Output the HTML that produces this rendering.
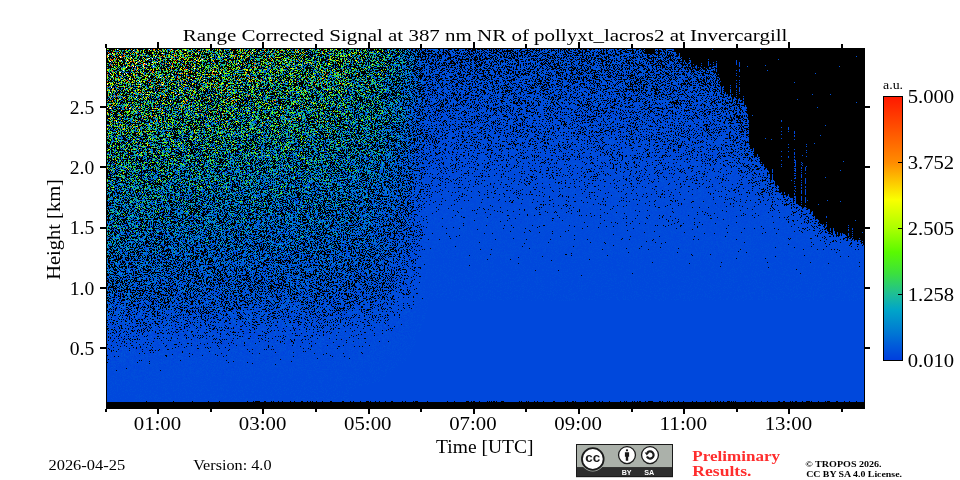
<!DOCTYPE html>
<html><head><meta charset="utf-8"><title>Range Corrected Signal</title>
<style>
html,body{margin:0;padding:0;background:#fff;}
body{width:960px;height:480px;overflow:hidden;position:relative;font-family:"Liberation Serif",serif;}
svg{position:absolute;left:0;top:0;}
text{font-family:"Liberation Serif",serif;fill:#000;}
.b{font-weight:bold;}
.ss{font-family:"Liberation Sans",sans-serif;font-weight:bold;}
</style></head><body>
<svg width="759" height="361" viewBox="106 48 759 361" style="left:106px;top:48px">
<defs>
<linearGradient id="gx" gradientUnits="userSpaceOnUse" x1="107" y1="0" x2="864" y2="0"><stop offset="0" stop-color="rgb(19,0,0)"/><stop offset="0.0159" stop-color="rgb(20,0,0)"/><stop offset="0.0317" stop-color="rgb(21,0,0)"/><stop offset="0.0476" stop-color="rgb(21,0,0)"/><stop offset="0.0634" stop-color="rgb(22,0,0)"/><stop offset="0.07" stop-color="rgb(22,0,0)"/><stop offset="0.0793" stop-color="rgb(23,0,0)"/><stop offset="0.0951" stop-color="rgb(23,0,0)"/><stop offset="0.111" stop-color="rgb(24,0,0)"/><stop offset="0.1268" stop-color="rgb(24,0,0)"/><stop offset="0.1427" stop-color="rgb(25,0,0)"/><stop offset="0.1493" stop-color="rgb(25,0,0)"/><stop offset="0.1585" stop-color="rgb(25,0,0)"/><stop offset="0.1744" stop-color="rgb(26,0,0)"/><stop offset="0.1902" stop-color="rgb(26,0,0)"/><stop offset="0.2061" stop-color="rgb(27,0,0)"/><stop offset="0.2219" stop-color="rgb(27,0,0)"/><stop offset="0.2378" stop-color="rgb(28,0,0)"/><stop offset="0.2536" stop-color="rgb(28,0,0)"/><stop offset="0.2695" stop-color="rgb(29,0,0)"/><stop offset="0.2853" stop-color="rgb(29,0,0)"/><stop offset="0.2946" stop-color="rgb(29,0,0)"/><stop offset="0.3012" stop-color="rgb(30,0,0)"/><stop offset="0.317" stop-color="rgb(32,0,0)"/><stop offset="0.3329" stop-color="rgb(34,0,0)"/><stop offset="0.3487" stop-color="rgb(36,0,0)"/><stop offset="0.3606" stop-color="rgb(37,0,0)"/><stop offset="0.3646" stop-color="rgb(39,0,0)"/><stop offset="0.3804" stop-color="rgb(47,0,0)"/><stop offset="0.3937" stop-color="rgb(53,0,0)"/><stop offset="0.3963" stop-color="rgb(56,0,0)"/><stop offset="0.4108" stop-color="rgb(74,0,0)"/><stop offset="0.4122" stop-color="rgb(75,0,0)"/><stop offset="0.4267" stop-color="rgb(96,0,0)"/><stop offset="0.428" stop-color="rgb(96,0,0)"/><stop offset="0.4439" stop-color="rgb(96,0,0)"/><stop offset="0.4597" stop-color="rgb(96,0,0)"/><stop offset="0.4756" stop-color="rgb(96,0,0)"/><stop offset="0.4914" stop-color="rgb(96,0,0)"/><stop offset="0.5073" stop-color="rgb(96,0,0)"/><stop offset="0.5231" stop-color="rgb(96,0,0)"/><stop offset="0.539" stop-color="rgb(96,0,0)"/><stop offset="0.5548" stop-color="rgb(96,0,0)"/><stop offset="0.5707" stop-color="rgb(96,0,0)"/><stop offset="0.5865" stop-color="rgb(96,0,0)"/><stop offset="0.6024" stop-color="rgb(96,0,0)"/><stop offset="0.6182" stop-color="rgb(96,0,0)"/><stop offset="0.6341" stop-color="rgb(96,0,0)"/><stop offset="0.6499" stop-color="rgb(96,0,0)"/><stop offset="0.6658" stop-color="rgb(96,0,0)"/><stop offset="0.6816" stop-color="rgb(96,0,0)"/><stop offset="0.6975" stop-color="rgb(96,0,0)"/><stop offset="0.7133" stop-color="rgb(96,0,0)"/><stop offset="0.7292" stop-color="rgb(96,0,0)"/><stop offset="0.745" stop-color="rgb(96,0,0)"/><stop offset="0.7609" stop-color="rgb(96,0,0)"/><stop offset="0.7768" stop-color="rgb(96,0,0)"/><stop offset="0.7926" stop-color="rgb(96,0,0)"/><stop offset="0.8085" stop-color="rgb(96,0,0)"/><stop offset="0.8243" stop-color="rgb(96,0,0)"/><stop offset="0.8402" stop-color="rgb(96,0,0)"/><stop offset="0.856" stop-color="rgb(96,0,0)"/><stop offset="0.8719" stop-color="rgb(96,0,0)"/><stop offset="0.8877" stop-color="rgb(96,0,0)"/><stop offset="0.9036" stop-color="rgb(96,0,0)"/><stop offset="0.9194" stop-color="rgb(96,0,0)"/><stop offset="0.9353" stop-color="rgb(96,0,0)"/><stop offset="0.9511" stop-color="rgb(96,0,0)"/><stop offset="0.967" stop-color="rgb(96,0,0)"/><stop offset="0.9828" stop-color="rgb(96,0,0)"/><stop offset="0.9987" stop-color="rgb(96,0,0)"/><stop offset="1" stop-color="rgb(96,0,0)"/></linearGradient>
<linearGradient id="gy" gradientUnits="userSpaceOnUse" x1="0" y1="49" x2="0" y2="408"><stop offset="0" stop-color="rgb(0,16,159)"/><stop offset="0.0167" stop-color="rgb(0,27,158)"/><stop offset="0.0334" stop-color="rgb(0,36,157)"/><stop offset="0.0501" stop-color="rgb(0,42,156)"/><stop offset="0.0669" stop-color="rgb(0,47,155)"/><stop offset="0.0836" stop-color="rgb(0,53,154)"/><stop offset="0.1003" stop-color="rgb(0,56,152)"/><stop offset="0.117" stop-color="rgb(0,58,151)"/><stop offset="0.1337" stop-color="rgb(0,61,150)"/><stop offset="0.1504" stop-color="rgb(0,64,149)"/><stop offset="0.1671" stop-color="rgb(0,66,148)"/><stop offset="0.1838" stop-color="rgb(0,69,146)"/><stop offset="0.2006" stop-color="rgb(0,71,145)"/><stop offset="0.2173" stop-color="rgb(0,73,143)"/><stop offset="0.234" stop-color="rgb(0,75,142)"/><stop offset="0.2507" stop-color="rgb(0,77,141)"/><stop offset="0.2674" stop-color="rgb(0,79,139)"/><stop offset="0.2841" stop-color="rgb(0,81,138)"/><stop offset="0.3008" stop-color="rgb(0,82,136)"/><stop offset="0.3175" stop-color="rgb(0,84,135)"/><stop offset="0.3343" stop-color="rgb(0,86,133)"/><stop offset="0.351" stop-color="rgb(0,88,132)"/><stop offset="0.3677" stop-color="rgb(0,90,130)"/><stop offset="0.3844" stop-color="rgb(0,92,128)"/><stop offset="0.4011" stop-color="rgb(0,93,126)"/><stop offset="0.4178" stop-color="rgb(0,95,125)"/><stop offset="0.4345" stop-color="rgb(0,97,123)"/><stop offset="0.4513" stop-color="rgb(0,98,121)"/><stop offset="0.468" stop-color="rgb(0,99,119)"/><stop offset="0.4847" stop-color="rgb(0,101,117)"/><stop offset="0.5014" stop-color="rgb(0,102,115)"/><stop offset="0.5181" stop-color="rgb(0,104,113)"/><stop offset="0.5348" stop-color="rgb(0,106,110)"/><stop offset="0.5515" stop-color="rgb(0,107,108)"/><stop offset="0.5682" stop-color="rgb(0,109,106)"/><stop offset="0.585" stop-color="rgb(0,110,103)"/><stop offset="0.6017" stop-color="rgb(0,112,100)"/><stop offset="0.6184" stop-color="rgb(0,113,98)"/><stop offset="0.6351" stop-color="rgb(0,115,95)"/><stop offset="0.6518" stop-color="rgb(0,116,92)"/><stop offset="0.6685" stop-color="rgb(0,119,89)"/><stop offset="0.6852" stop-color="rgb(0,124,85)"/><stop offset="0.7019" stop-color="rgb(0,129,82)"/><stop offset="0.7187" stop-color="rgb(0,134,78)"/><stop offset="0.7354" stop-color="rgb(0,139,74)"/><stop offset="0.7521" stop-color="rgb(0,145,70)"/><stop offset="0.7688" stop-color="rgb(0,150,65)"/><stop offset="0.7855" stop-color="rgb(0,155,60)"/><stop offset="0.8022" stop-color="rgb(0,159,55)"/><stop offset="0.8189" stop-color="rgb(0,163,50)"/><stop offset="0.8357" stop-color="rgb(0,168,43)"/><stop offset="0.8524" stop-color="rgb(0,173,36)"/><stop offset="0.8691" stop-color="rgb(0,179,28)"/><stop offset="0.8858" stop-color="rgb(0,185,20)"/><stop offset="0.9025" stop-color="rgb(0,191,14)"/><stop offset="0.9192" stop-color="rgb(0,196,9)"/><stop offset="0.9359" stop-color="rgb(0,199,3)"/><stop offset="0.9526" stop-color="rgb(0,200,0)"/><stop offset="0.9694" stop-color="rgb(0,202,0)"/><stop offset="0.9861" stop-color="rgb(0,203,0)"/></linearGradient>
<filter id="heat" filterUnits="userSpaceOnUse" x="106" y="48" width="759" height="361" color-interpolation-filters="sRGB">
<feTurbulence type="fractalNoise" baseFrequency="1.618" numOctaves="2" seed="3"/><feColorMatrix type="matrix" values="0 0 0 1 0 0 0 0 1 0 0 0 0 1 0 0 0 0 0 1" result="n0"/><feTurbulence type="fractalNoise" baseFrequency="2.31 2.71" numOctaves="1" seed="11"/><feColorMatrix type="matrix" values="0 0 0 1 0 0 0 0 1 0 0 0 0 1 0 0 0 0 0 1" result="n1"/><feComposite in="n0" in2="n1" operator="arithmetic" k1="0" k2="1" k3="1" k4="-0.5"/>
<feComponentTransfer result="Z"><feFuncR type="table" tableValues="0.008 0.008 0.008 0.008 0.008 0.008 0.008 0.008 0.008 0.008 0.008 0.008 0.008 0.008 0.012 0.017 0.022 0.027 0.032 0.037 0.042 0.047 0.052 0.057 0.062 0.067 0.072 0.076 0.081 0.085 0.09 0.095 0.1 0.105 0.109 0.114 0.119 0.123 0.128 0.132 0.136 0.141 0.145 0.149 0.154 0.158 0.163 0.167 0.171 0.176 0.18 0.184 0.189 0.193 0.197 0.202 0.206 0.21 0.214 0.218 0.223 0.227 0.231 0.235 0.24 0.244 0.248 0.252 0.256 0.26 0.264 0.269 0.273 0.277 0.281 0.285 0.289 0.293 0.298 0.302 0.306 0.31 0.314 0.318 0.322 0.327 0.331 0.335 0.339 0.343 0.347 0.351 0.355 0.359 0.363 0.367 0.371 0.375 0.379 0.383 0.387 0.391 0.395 0.399 0.403 0.407 0.411 0.415 0.419 0.423 0.427 0.431 0.435 0.439 0.443 0.447 0.451 0.455 0.459 0.463 0.467 0.471 0.475 0.479 0.483 0.488 0.492 0.496 0.5 0.504 0.508 0.512 0.516 0.52 0.524 0.528 0.532 0.536 0.54 0.544 0.548 0.552 0.557 0.561 0.565 0.569 0.573 0.577 0.581 0.585 0.589 0.593 0.597 0.601 0.605 0.609 0.613 0.617 0.621 0.625 0.629 0.633 0.637 0.642 0.646 0.65 0.654 0.658 0.662 0.666 0.67 0.674 0.678 0.682 0.686 0.69 0.694 0.698 0.703 0.707 0.711 0.715 0.719 0.723 0.728 0.732 0.736 0.74 0.745 0.749 0.753 0.757 0.761 0.765 0.77 0.774 0.778 0.782 0.786 0.791 0.795 0.799 0.803 0.807 0.812 0.816 0.82 0.825 0.829 0.833 0.838 0.842 0.846 0.85 0.855 0.859 0.864 0.868 0.872 0.876 0.881 0.885 0.889 0.894 0.898 0.903 0.908 0.912 0.917 0.922 0.926 0.931 0.935 0.94 0.944 0.949 0.954 0.959 0.964 0.968 0.973 0.978 0.983 0.988 0.993 0.998 1 1 1 1 1 1 1 1 1 1"/></feComponentTransfer>
<feColorMatrix in="SourceGraphic" type="matrix" values="1 1 0 0 0 0 0 0 0 0 0 0 0 0 0 0 0 0 0 1"/>
<feComponentTransfer result="Rho"><feFuncR type="table" tableValues="0.008 0.021 0.034 0.047 0.06 0.073 0.085 0.098 0.111 0.124 0.137 0.15 0.163 0.175 0.188 0.201 0.214 0.227 0.24 0.253 0.265 0.278 0.291 0.304 0.317 0.33 0.343 0.355 0.368 0.381 0.394 0.407 0.42 0.433 0.445 0.458 0.471 0.484 0.497 0.502 0.502 0.502 0.503 0.503 0.503 0.503 0.503 0.503 0.503 0.503 0.503 0.503 0.503 0.504 0.504 0.504 0.504 0.504 0.504 0.504 0.504 0.505 0.505 0.505 0.505 0.505 0.505 0.506 0.506 0.506 0.506 0.506 0.507 0.507 0.507 0.507 0.507 0.508 0.508 0.508 0.508 0.509 0.509 0.509 0.509 0.51 0.51 0.51 0.511 0.511 0.511 0.512 0.512 0.513 0.513 0.513 0.514 0.514 0.515 0.515 0.516 0.516 0.517 0.517 0.518 0.518 0.519 0.52 0.52 0.521 0.521 0.522 0.523 0.524 0.524 0.525 0.526 0.527 0.528 0.528 0.529 0.53 0.531 0.532 0.533 0.534 0.535 0.537 0.538 0.539 0.54 0.542 0.543 0.544 0.546 0.547 0.549 0.55 0.552 0.553 0.555 0.557 0.559 0.56 0.562 0.564 0.566 0.569 0.571 0.573 0.575 0.578 0.58 0.583 0.585 0.588 0.591 0.594 0.597 0.6 0.603 0.606 0.61 0.613 0.617 0.621 0.624 0.628 0.633 0.637 0.641 0.646 0.65 0.655 0.66 0.665 0.67 0.676 0.681 0.687 0.693 0.699 0.706 0.712 0.719 0.726 0.733 0.74 0.748 0.756 0.764 0.773 0.781 0.79 0.8 0.809 0.819 0.829 0.84 0.85 0.862 0.873 0.885 0.897 0.91 0.923 0.936 0.95 0.965 0.98 0.995 1 1 1 1 1 1 1 1 1 1 1 1 1 1 1 1 1 1 1 1 1 1 1 1 1 1 1 1 1 1 1 1 1 1 1 1 1 1 1 1 1 1 1 1 1"/></feComponentTransfer>
<feComposite in="Z" in2="Rho" operator="arithmetic" k1="0" k2="1" k3="1" k4="-1" result="S"/>
<feColorMatrix in="SourceGraphic" type="matrix" values="-1.3 0 1 0 0.425 0 0 0 0 0 0 0 0 0 0 0 0 0 0 1"/>
<feComponentTransfer result="Gn"><feFuncR type="table" tableValues="0.0005 0.0005 0.0005 0.0005 0.0006 0.0006 0.0006 0.0006 0.0006 0.0007 0.0007 0.0007 0.0007 0.0007 0.0008 0.0008 0.0008 0.0008 0.0009 0.0009 0.0009 0.001 0.001 0.001 0.0011 0.0011 0.0011 0.0012 0.0012 0.0012 0.0013 0.0013 0.0014 0.0014 0.0014 0.0015 0.0015 0.0016 0.0016 0.0017 0.0017 0.0018 0.0019 0.0019 0.002 0.002 0.0021 0.0022 0.0022 0.0023 0.0024 0.0025 0.0025 0.0026 0.0027 0.0028 0.0029 0.003 0.0031 0.0032 0.0033 0.0034 0.0035 0.0036 0.0037 0.0038 0.0039 0.0041 0.0042 0.0043 0.0045 0.0046 0.0048 0.0049 0.0051 0.0052 0.0054 0.0056 0.0058 0.0059 0.0061 0.0063 0.0065 0.0067 0.0069 0.0072 0.0074 0.0076 0.0079 0.0081 0.0084 0.0086 0.0089 0.0092 0.0095 0.0098 0.0101 0.0104 0.0108 0.0111 0.0115 0.0118 0.0122 0.0126 0.013 0.0134 0.0138 0.0143 0.0147 0.0152 0.0157 0.0162 0.0167 0.0172 0.0178 0.0184 0.0189 0.0195 0.0202 0.0208 0.0215 0.0222 0.0229 0.0236 0.0244 0.0251 0.0259 0.0268 0.0276 0.0285 0.0294 0.0303 0.0313 0.0323 0.0333 0.0344 0.0355 0.0366 0.0378 0.039 0.0402 0.0415 0.0428 0.0442 0.0456 0.0471 0.0486 0.0501 0.0517 0.0533 0.0551 0.0568 0.0586 0.0605 0.0624 0.0644 0.0665 0.0686 0.0708 0.073 0.0753 0.0777 0.0802 0.0828 0.0854 0.0881 0.0909 0.0938 0.0968 0.0999 0.1031 0.1064 0.1098 0.1133 0.1169 0.1206 0.1245 0.1284 0.1325 0.1367 0.1411 0.1456 0.1502 0.155 0.16 0.1651 0.1703 0.1757 0.1813 0.1871 0.1931 0.1992 0.2056 0.2121 0.2189 0.2259 0.2331 0.2405 0.2482 0.2561 0.2642 0.2727 0.2814 0.2903 0.2996 0.3091 0.319 0.3291 0.3396 0.3505 0.3616 0.3731 0.385 0.3973 0.41 0.423 0.4365 0.4504 0.4648 0.4796 0.4949 0.5107 0.5269 0.5437 0.5611 0.5789 0.5974 0.6164 0.6361 0.6563 0.6773 0.6988 0.7211 0.7441 0.7678 0.7923 0.8175 0.8436 0.8705 0.8982 0.9268 0.9564 0.9869 1 1 1 1 1 1 1 1 1 1 1 1 1"/></feComponentTransfer>
<feComposite in="Z" in2="Gn" operator="arithmetic" k1="2.55" k2="0" k3="-1.275" k4="0.036"/>
<feColorMatrix type="matrix" values="1 0 0 0 0 1 0 0 0 0 1 0 0 0 0 0 0 0 0 1"/>
<feComponentTransfer result="C"><feFuncR type="discrete" tableValues="0 0 0 0 0 0 0 0 0 0 0 0 0 0 0 0 0 0 0 0 0 0 0.019 0.039 0.058 0.078 0.098 0.117 0.132 0.147 0.162 0.176 0.191 0.206 0.22 0.235 0.25 0.265 0.279 0.294 0.309 0.324 0.338 0.353 0.388 0.423 0.458 0.493 0.528 0.563 0.598 0.632 0.667 0.696 0.724 0.753 0.782 0.81 0.839 0.867 0.896 0.924 0.953 0.98 0.982 0.983 0.985 0.986 0.987 0.989 0.99 0.992 0.993 0.994 0.996 0.997 0.999 1 1 1 1 1 1 1 1 1 1 1 1 1 1 1 1 1 1 1 1 1 1 1 1 1 1 1 1 1 1 1 1 1 1 1 1 1 1 1 1 1 1 1 1 1 1 1 1 1 1 1"/><feFuncG type="discrete" tableValues="0.243 0.243 0.243 0.263 0.283 0.304 0.325 0.345 0.367 0.39 0.414 0.438 0.462 0.482 0.503 0.523 0.544 0.564 0.585 0.605 0.626 0.646 0.663 0.679 0.696 0.712 0.728 0.745 0.762 0.779 0.796 0.813 0.831 0.848 0.865 0.882 0.895 0.907 0.919 0.931 0.944 0.956 0.968 0.98 0.983 0.985 0.987 0.989 0.991 0.993 0.996 0.998 1 1 1 1 1 1 1 1 1 1 1 0.999 0.967 0.934 0.902 0.87 0.837 0.805 0.773 0.741 0.708 0.676 0.644 0.612 0.579 0.548 0.53 0.512 0.494 0.476 0.458 0.44 0.421 0.403 0.385 0.367 0.349 0.331 0.313 0.295 0.277 0.259 0.241 0.223 0.205 0.187 0.169 0.15 0.132 0.114 1 1 1 1 1 1 1 1 1 1 1 1 1 1 1 1 1 1 1 1 1 1 1 1 1 1"/><feFuncB type="discrete" tableValues="0.871 0.871 0.871 0.868 0.865 0.862 0.86 0.857 0.854 0.848 0.843 0.837 0.832 0.826 0.821 0.816 0.811 0.805 0.8 0.795 0.79 0.784 0.753 0.72 0.687 0.654 0.622 0.589 0.545 0.501 0.457 0.412 0.368 0.324 0.28 0.236 0.206 0.177 0.147 0.118 0.088 0.059 0.029 0 0 0 0 0 0 0 0 0 0 0 0 0 0 0 0 0 0 0 0 0 0 0 0 0 0 0 0 0 0 0 0 0 0 0 0 0 0 0 0 0 0 0 0 0 0 0 0 0 0 0 0 0 0 0 0 0 0 0 1 1 1 1 1 1 1 1 1 1 1 1 1 1 1 1 1 1 1 1 1 1 1 1 1 1"/></feComponentTransfer>
<feColorMatrix in="S" type="matrix" values="255 0 0 0 0 255 0 0 0 0 255 0 0 0 0 0 0 0 0 1" result="M"/>
<feComposite in="C" in2="M" operator="arithmetic" k1="1" k2="0" k3="0" k4="0"/>
</filter>
</defs>
<g filter="url(#heat)">
<rect x="106" y="48" width="759" height="361" fill="url(#gx)"/>
<rect x="106" y="48" width="759" height="361" fill="url(#gy)" style="mix-blend-mode:screen"/>
<path d="M674,48 678,57 688,63 698,67 709,68 712,63 716,63 718,73 720,82 725,92 732,96 741,102 747,106 749,118 749,144 753,151 763,161 770,175 777,187 787,195 798,204 808,210 815,218 823,227 833,233 844,235 854,238 865,244" fill="none" stroke="#000" stroke-opacity="0.05" stroke-width="40" stroke-linejoin="round"/><path d="M674,48 678,57 688,63 698,67 709,68 712,63 716,63 718,73 720,82 725,92 732,96 741,102 747,106 749,118 749,144 753,151 763,161 770,175 777,187 787,195 798,204 808,210 815,218 823,227 833,233 844,235 854,238 865,244" fill="none" stroke="#000" stroke-opacity="0.06" stroke-width="18" stroke-linejoin="round"/><g shape-rendering="crispEdges"><path d="M674,48V52h1V50h1V54h1V57h1V56h1V53h1V58h1V56h1V67h1V61h1V60h1V62h1V63h1V63h1V63h1V58h1V59h1V64h1V65h1V62h1V69h1V66h1V65h1V71h1V67h1V71h1V66h1V63h1V69h1V66h1V67h1V70h1V65h1V69h1V59h1V66h1V64h1V69h1V66h1V62h1V65h1V63h1V60h1V76h1V72h1V77h1V79h1V95h1V87h1V85h1V94h1V87h1V93h1V93h1V94h1V94h1V85h1V97h1V103h1V99h1V97h1V95h1V99h1V103h1V99h1V99h1V100h1V100h1V102h1V95h1V107h1V104h1V106h1V112h1V118h1V145h1V148h1V149h1V150h1V148h1V158h1V156h1V156h1V154h1V156h1V156h1V164h1V162h1V164h1V163h1V167h1V167h1V168h1V170h1V171h1V174h1V180h1V180h1V169h1V180h1V181h1V185h1V187h1V184h1V189h1V193h1V193h1V191h1V194h1V197h1V192h1V195h1V197h1V196h1V194h1V197h1V198h1V198h1V198h1V203h1V200h1V200h1V204h1V204h1V204h1V206h1V206h1V200h1V209h1V208h1V207h1V208h1V208h1V210h1V209h1V209h1V213h1V212h1V211h1V217h1V216h1V220h1V219h1V219h1V220h1V222h1V224h1V224h1V225h1V224h1V228h1V226h1V229h1V231h1V232h1V234h1V228h1V233h1V235h1V228h1V231h1V234h1V237h1V231h1V235h1V236h1V233h1V236h1V233h1V234h1V234h1V235h1V236h1V241h1V234h1V237h1V239h1V238h1V236h1V239h1V241h1V240h1V240h1V242h1V240h1V238h1V240h1V243h1V243h1V245h1V244h1V48Z" fill="#000"/><rect x="645" y="48" width="10" height="6" fill="#000"/><rect x="107" y="401" width="123" height="1" fill="rgb(192,0,0)"/><rect x="230" y="401" width="634" height="1" fill="rgb(170,0,0)"/><rect x="736" y="60" width="1" height="49" fill="rgb(36,0,0)"/><rect x="739" y="62" width="1" height="46" fill="rgb(37,0,0)"/><rect x="781" y="105" width="1" height="65" fill="rgb(23,0,0)"/><rect x="788" y="103" width="1" height="72" fill="rgb(25,0,0)"/><rect x="794" y="130" width="1" height="70" fill="rgb(34,0,0)"/><rect x="795" y="160" width="1" height="43" fill="rgb(42,0,0)"/><rect x="801" y="160" width="1" height="46" fill="rgb(42,0,0)"/><rect x="802" y="150" width="1" height="30" fill="rgb(25,0,0)"/><rect x="805" y="165" width="1" height="43" fill="rgb(41,0,0)"/><rect x="806" y="140" width="1" height="30" fill="rgb(23,0,0)"/><rect x="826" y="215" width="1" height="13" fill="rgb(41,0,0)"/><rect x="848" y="225" width="1" height="13" fill="rgb(41,0,0)"/><rect x="852" y="228" width="1" height="12" fill="rgb(41,0,0)"/></g>
</g>
</svg>
<svg width="960" height="480" viewBox="0 0 960 480" shape-rendering="crispEdges">
<rect x="107" y="402" width="757" height="6" fill="#000"/>
<g fill="#000"><rect x="106" y="48" width="759" height="1"/><rect x="106" y="408" width="759" height="1"/><rect x="106" y="48" width="1" height="361"/><rect x="864" y="48" width="1" height="361"/><rect x="105" y="409" width="2" height="3"/><rect x="105" y="44" width="2" height="4"/><rect x="157" y="409" width="2" height="5"/><rect x="157" y="42" width="2" height="6"/><rect x="210" y="409" width="2" height="3"/><rect x="210" y="44" width="2" height="4"/><rect x="262" y="409" width="2" height="5"/><rect x="262" y="42" width="2" height="6"/><rect x="315" y="409" width="2" height="3"/><rect x="315" y="44" width="2" height="4"/><rect x="368" y="409" width="2" height="5"/><rect x="368" y="42" width="2" height="6"/><rect x="420" y="409" width="2" height="3"/><rect x="420" y="44" width="2" height="4"/><rect x="473" y="409" width="2" height="5"/><rect x="473" y="42" width="2" height="6"/><rect x="525" y="409" width="2" height="3"/><rect x="525" y="44" width="2" height="4"/><rect x="578" y="409" width="2" height="5"/><rect x="578" y="42" width="2" height="6"/><rect x="631" y="409" width="2" height="3"/><rect x="631" y="44" width="2" height="4"/><rect x="683" y="409" width="2" height="5"/><rect x="683" y="42" width="2" height="6"/><rect x="736" y="409" width="2" height="3"/><rect x="736" y="44" width="2" height="4"/><rect x="788" y="409" width="2" height="5"/><rect x="788" y="42" width="2" height="6"/><rect x="841" y="409" width="2" height="3"/><rect x="841" y="44" width="2" height="4"/><rect x="100" y="347" width="6" height="2"/><rect x="865" y="347" width="5" height="2"/><rect x="100" y="287" width="6" height="2"/><rect x="865" y="287" width="5" height="2"/><rect x="100" y="227" width="6" height="2"/><rect x="865" y="227" width="5" height="2"/><rect x="100" y="166" width="6" height="2"/><rect x="865" y="166" width="5" height="2"/><rect x="100" y="106" width="6" height="2"/><rect x="865" y="106" width="5" height="2"/></g>
<defs><linearGradient id="cb" x1="0" y1="1" x2="0" y2="0">
<stop offset="0.000" stop-color="rgb(0,62,222)"/>
<stop offset="0.057" stop-color="rgb(0,92,218)"/>
<stop offset="0.100" stop-color="rgb(0,118,212)"/>
<stop offset="0.190" stop-color="rgb(0,165,200)"/>
<stop offset="0.250" stop-color="rgb(30,190,150)"/>
<stop offset="0.330" stop-color="rgb(60,225,60)"/>
<stop offset="0.410" stop-color="rgb(90,250,0)"/>
<stop offset="0.500" stop-color="rgb(170,255,0)"/>
<stop offset="0.610" stop-color="rgb(250,255,0)"/>
<stop offset="0.750" stop-color="rgb(255,140,0)"/>
<stop offset="1.000" stop-color="rgb(255,25,0)"/>
</linearGradient></defs>
<rect x="883" y="96" width="20" height="265" fill="#000"/><rect x="884" y="97" width="18" height="263" fill="url(#cb)"/><rect x="898" y="162" width="4" height="1" fill="#000"/><rect x="898" y="228" width="4" height="1" fill="#000"/><rect x="898" y="294" width="4" height="1" fill="#000"/></svg>
<svg width="960" height="480" viewBox="0 0 960 480" style="will-change:transform">
<text x="182.69" y="40.5" font-size="16" textLength="604.67" lengthAdjust="spacingAndGlyphs">Range Corrected Signal at 387 nm NR of pollyxt_lacros2 at Invercargill</text>
<text x="69.78" y="354.8" font-size="19.3" textLength="24.53" lengthAdjust="spacingAndGlyphs">0.5</text>
<text x="69.78" y="294.55" font-size="19.3" textLength="24.53" lengthAdjust="spacingAndGlyphs">1.0</text>
<text x="69.78" y="234.3" font-size="19.3" textLength="24.53" lengthAdjust="spacingAndGlyphs">1.5</text>
<text x="69.78" y="174.05" font-size="19.3" textLength="24.53" lengthAdjust="spacingAndGlyphs">2.0</text>
<text x="69.78" y="113.8" font-size="19.3" textLength="24.53" lengthAdjust="spacingAndGlyphs">2.5</text>
<text x="133.72" y="430.25" font-size="19.3" textLength="47.48" lengthAdjust="spacingAndGlyphs">01:00</text>
<text x="238.88" y="430.25" font-size="19.3" textLength="47.48" lengthAdjust="spacingAndGlyphs">03:00</text>
<text x="344.04" y="430.25" font-size="19.3" textLength="47.48" lengthAdjust="spacingAndGlyphs">05:00</text>
<text x="449.2" y="430.25" font-size="19.3" textLength="47.48" lengthAdjust="spacingAndGlyphs">07:00</text>
<text x="554.36" y="430.25" font-size="19.3" textLength="47.48" lengthAdjust="spacingAndGlyphs">09:00</text>
<text x="659.52" y="430.25" font-size="19.3" textLength="47.48" lengthAdjust="spacingAndGlyphs">11:00</text>
<text x="764.68" y="430.25" font-size="19.3" textLength="47.48" lengthAdjust="spacingAndGlyphs">13:00</text>
<text x="436.1" y="452.9" font-size="18.7" textLength="97.34" lengthAdjust="spacingAndGlyphs">Time [UTC]</text>
<text x="60" y="279.85" font-size="18.7" textLength="100.79" lengthAdjust="spacingAndGlyphs" transform="rotate(-90 60 279.85)">Height [km]</text>
<text x="48.45" y="469.5" font-size="14.3" textLength="76.78" lengthAdjust="spacingAndGlyphs">2026-04-25</text>
<text x="193.2" y="469.5" font-size="14.3" textLength="78.32" lengthAdjust="spacingAndGlyphs">Version: 4.0</text>
<text x="907.68" y="102.5" font-size="19.3" textLength="46.49" lengthAdjust="spacingAndGlyphs">5.000</text>
<text x="907.68" y="168.5" font-size="19.3" textLength="46.49" lengthAdjust="spacingAndGlyphs">3.752</text>
<text x="907.68" y="234.5" font-size="19.3" textLength="46.49" lengthAdjust="spacingAndGlyphs">2.505</text>
<text x="907.68" y="300.5" font-size="19.3" textLength="46.49" lengthAdjust="spacingAndGlyphs">1.258</text>
<text x="907.68" y="366.5" font-size="19.3" textLength="46.49" lengthAdjust="spacingAndGlyphs">0.010</text>
<text x="883.0" y="89" font-size="13" textLength="20.09" lengthAdjust="spacingAndGlyphs">a.u.</text>
<text x="692.3" y="461" font-size="14.4" textLength="87.69" lengthAdjust="spacingAndGlyphs" class="b" style="fill:#ff2d2d">Preliminary</text>
<text x="692.3" y="475.5" font-size="14.4" textLength="59.16" lengthAdjust="spacingAndGlyphs" class="b" style="fill:#ff2d2d">Results.</text>
<text x="805.28" y="466.6" font-size="7.6" textLength="76.39" lengthAdjust="spacingAndGlyphs" class="b">© TROPOS 2026.</text>
<text x="806.2" y="476.9" font-size="7.6" textLength="95.78" lengthAdjust="spacingAndGlyphs" class="b">CC BY SA 4.0 License.</text>
<g id="badge">
<rect x="576" y="444" width="97" height="33" fill="#1a1a1a"/>
<rect x="577" y="445" width="95" height="22.3" fill="#abb1aa"/>
<rect x="577" y="467.3" width="95" height="9" fill="#2e2e2e"/>
<circle cx="592.8" cy="459" r="12.5" fill="#abb1aa"/>
<rect x="576" y="476.4" width="97" height="0.8" fill="#1a1a1a"/>
<rect x="576" y="444" width="1" height="33" fill="#1a1a1a"/>
<circle cx="592.8" cy="459" r="10.85" fill="#fff" stroke="#1a1a1a" stroke-width="1.8"/>
<text x="585.3" y="462.3" font-size="12.6" class="ss" textLength="15" lengthAdjust="spacingAndGlyphs" style="fill:#1a1a1a">cc</text>
<circle cx="627" cy="455.1" r="8.45" fill="#fff" stroke="#1a1a1a" stroke-width="1.3"/>
<circle cx="627" cy="450.3" r="1.15" fill="#1a1a1a"/>
<path d="M624.9 452.2 h4.2 v4.6 h-0.9 v3.9 h-2.4 v-3.9 h-0.9z" fill="#1a1a1a"/>
<circle cx="650" cy="455.1" r="8.45" fill="#fff" stroke="#1a1a1a" stroke-width="1.3"/>
<path d="M646.9 456.6 A3.55 3.55 0 1 0 647.2 452.9" fill="none" stroke="#1a1a1a" stroke-width="2.2"/>
<path d="M644.6 452.6 h4.6 l-2.3 2.9z" fill="#1a1a1a"/>
<text x="621.7" y="474.6" font-size="7" class="ss" textLength="9.9" lengthAdjust="spacingAndGlyphs" style="fill:#fff">BY</text>
<text x="644.2" y="474.6" font-size="7" class="ss" textLength="10" lengthAdjust="spacingAndGlyphs" style="fill:#fff">SA</text>
</g>
</svg>
</body></html>
